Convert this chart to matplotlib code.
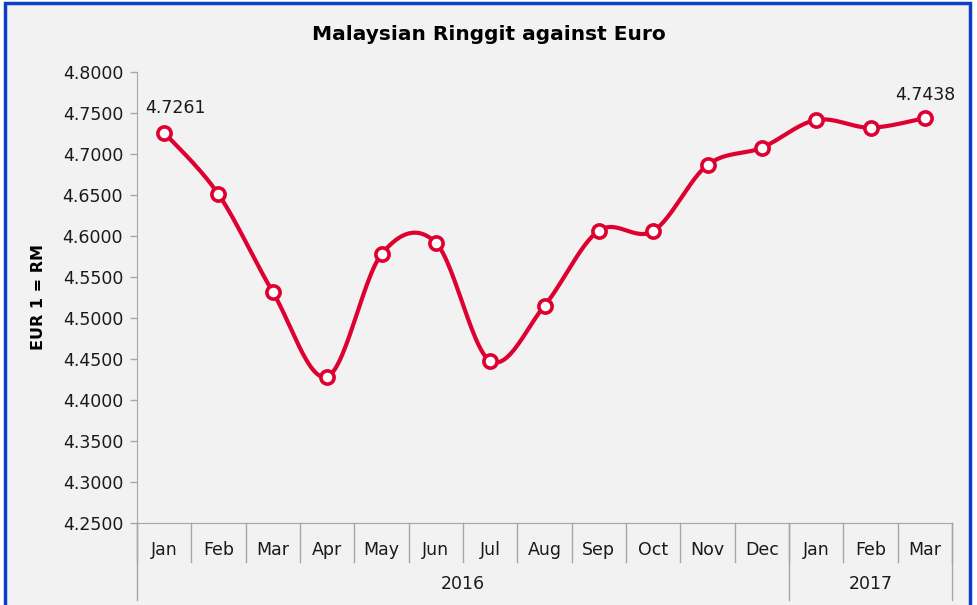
import numpy as np
import matplotlib
matplotlib.use("Agg")
import matplotlib.pyplot as plt
from matplotlib.patches import Rectangle
import matplotlib.transforms as mtrans

months = ["Jan", "Feb", "Mar", "Apr", "May", "Jun", "Jul", "Aug", "Sep",
          "Oct", "Nov", "Dec", "Jan", "Feb", "Mar"]
years = ["2016", "2017"]
year_counts = [12, 3]
rates = [4.7261, 4.6508, 4.5317, 4.4284, 4.5777, 4.5918, 4.4476, 4.5150,
         4.6065, 4.6060, 4.6866, 4.7077, 4.7415, 4.7321, 4.7438]
yticks = [4.25, 4.30, 4.35, 4.40, 4.45, 4.50, 4.55, 4.60, 4.65, 4.70, 4.75, 4.80]

plt.rcParams['font.family'] = ['DejaVu Sans']
W, H = 978, 605
fig = plt.figure(figsize=(W / 100, H / 100), dpi=100)
fig.patch.set_facecolor("white")

# background panel with blue frame (bottom edge cut off like the source)
fig.patches.append(Rectangle((5 / W, -0.05), 965 / W, 1.05 - 3 / H,
                             transform=fig.transFigure, facecolor="#F2F2F2",
                             edgecolor="#0B3FC9", linewidth=2.5, zorder=-10))

ax = fig.add_axes([137 / W, 1 - 523 / H, (952 - 137) / W, (523 - 72) / H])
ax.set_facecolor("none")

x = np.arange(len(rates))
y = np.array(rates)

# smooth curve like Excel's smoothed line (Catmull-Rom style bezier)
sx, sy = [], []
for i in range(len(x) - 1):
    p0 = (x[max(i - 1, 0)], y[max(i - 1, 0)])
    p1 = (x[i], y[i])
    p2 = (x[i + 1], y[i + 1])
    p3 = (x[min(i + 2, len(x) - 1)], y[min(i + 2, len(x) - 1)])
    c1 = (p1[0] + (p2[0] - p0[0]) / 6, p1[1] + (p2[1] - p0[1]) / 6)
    c2 = (p2[0] - (p3[0] - p1[0]) / 6, p2[1] - (p3[1] - p1[1]) / 6)
    t = np.linspace(0, 1, 30)
    bx = (1 - t) ** 3 * p1[0] + 3 * (1 - t) ** 2 * t * c1[0] + 3 * (1 - t) * t ** 2 * c2[0] + t ** 3 * p2[0]
    by = (1 - t) ** 3 * p1[1] + 3 * (1 - t) ** 2 * t * c1[1] + 3 * (1 - t) * t ** 2 * c2[1] + t ** 3 * p2[1]
    sx.extend(bx)
    sy.extend(by)

red = "#DE0030"
txt = "#1A1A1A"
ax.plot(sx, sy, color=red, linewidth=3, solid_capstyle="round", zorder=3)
ax.plot(x, y, linestyle="none", marker="o", markersize=9.5, markerfacecolor="white",
        markeredgecolor=red, markeredgewidth=2.6, zorder=4)

ax.annotate(f"{rates[0]:.4f}", (x[0], y[0]), xytext=(8, 11), textcoords="offset points",
            ha="center", va="bottom", fontsize=12.5, color=txt)
ax.annotate(f"{rates[-1]:.4f}", (x[-1], y[-1]), xytext=(0, 10), textcoords="offset points",
            ha="center", va="bottom", fontsize=12.5, color=txt)

ax.set_xlim(-0.5, len(rates) - 0.5)
ax.set_ylim(4.25, 4.80)
ax.set_yticks(yticks)
ax.set_yticklabels([f"{v:.4f}" for v in yticks], fontsize=12.5, color=txt)
ax.tick_params(axis="y", length=5, width=1, color="#A6A6A6", pad=5)
ax.set_xticks([])

for s in ["top", "right"]:
    ax.spines[s].set_visible(False)
ax.spines["left"].set_color("#A6A6A6")
ax.spines["bottom"].set_color("#A6A6A6")
ax.spines["left"].set_bounds(4.25, 4.80)

ax.set_ylabel("EUR 1 = RM", fontsize=11.5, fontweight="bold", labelpad=12)
fig.text(489 / W, 1 - 35 / H, "Malaysian Ringgit against Euro", fontsize=14.5,
         fontweight="bold", ha="center", va="center", color="black")

# multi-level category axis
tr = mtrans.blended_transform_factory(ax.transData, ax.transAxes)
ax_h = 523 - 72
month_drop = -39 / ax_h
year_drop = -77 / ax_h
for i, m in enumerate(months):
    ax.text(i, -27 / ax_h, m, transform=tr, ha="center", va="center", fontsize=12.5, color=txt)
for b in range(len(months) + 1):
    ax.plot([b - 0.5, b - 0.5], [0, month_drop], transform=tr, color="#A6A6A6", lw=1, clip_on=False)
start = 0
bounds = [start]
for name, n in zip(years, year_counts):
    ax.text(start + n / 2 - 0.5, -61 / ax_h, name, transform=tr, ha="center", va="center",
            fontsize=12.5, color=txt)
    start += n
    bounds.append(start)
for b in bounds:
    ax.plot([b - 0.5, b - 0.5], [0, year_drop], transform=tr, color="#A6A6A6", lw=1, clip_on=False)

fig.savefig("out.png", dpi=100, facecolor=fig.get_facecolor())
